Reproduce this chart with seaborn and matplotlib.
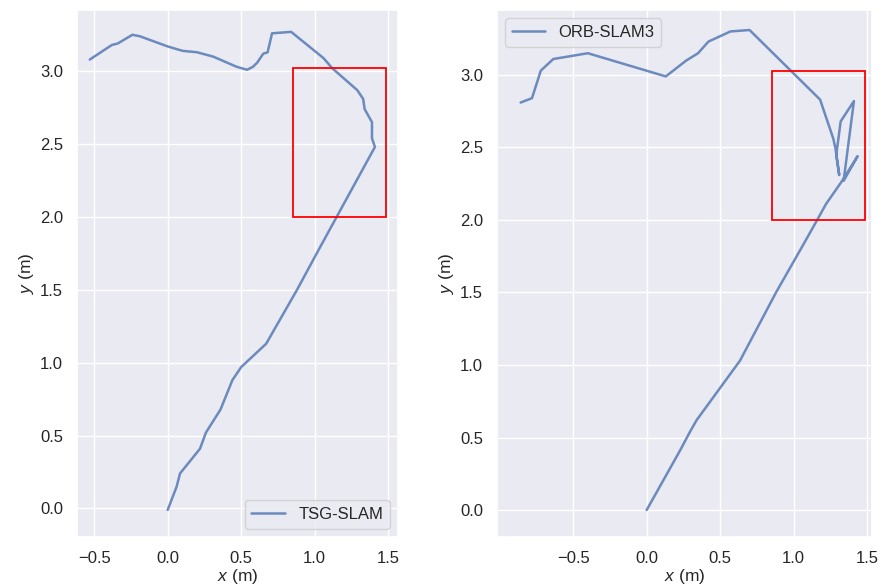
import matplotlib
matplotlib.use("Agg")
import matplotlib.pyplot as plt
import matplotlib.patches as mpatches
import seaborn as sns
import pandas as pd

# ---- data ----
tsg_x = [0.0, 0.061, 0.084, 0.22, 0.26, 0.36, 0.44, 0.50, 0.67, 0.88, 1.03, 1.41,
         1.39, 1.39, 1.34, 1.33, 1.29, 1.12, 1.06, 0.95, 0.84, 0.71, 0.68, 0.65,
         0.61, 0.58, 0.54, 0.47, 0.31, 0.20, 0.10, 0.00, -0.19, -0.24, -0.34, -0.38, -0.53]
tsg_y = [-0.01, 0.15, 0.24, 0.41, 0.52, 0.68, 0.88, 0.97, 1.13, 1.50, 1.78, 2.48,
         2.54, 2.65, 2.74, 2.81, 2.87, 3.02, 3.09, 3.18, 3.27, 3.26, 3.13, 3.12,
         3.06, 3.03, 3.01, 3.03, 3.10, 3.13, 3.14, 3.17, 3.24, 3.25, 3.19, 3.18, 3.08]

orb_x = [0.0, 0.227, 0.295, 0.34, 0.635, 0.88, 1.06, 1.16, 1.22, 1.33, 1.435,
         1.34, 1.41, 1.32, 1.29, 1.31, 1.285, 1.27, 1.19, 1.18, 0.70, 0.57, 0.42,
         0.35, 0.27, 0.13, -0.40, -0.635, -0.72, -0.78, -0.857]
orb_y = [0.0, 0.41, 0.54, 0.62, 1.03, 1.50, 1.82, 2.00, 2.11, 2.27, 2.44,
         2.27, 2.82, 2.68, 2.45, 2.31, 2.49, 2.56, 2.80, 2.83, 3.31, 3.30, 3.23,
         3.15, 3.10, 2.99, 3.15, 3.11, 3.03, 2.84, 2.81]

box_x0, box_x1 = 0.855, 1.485
box_y0, box_y1 = 2.0, 3.025

x_ticks = [-0.5, 0.0, 0.5, 1.0, 1.5]
y_ticks = [0.0, 0.5, 1.0, 1.5, 2.0, 2.5, 3.0]

# ---- style ----
sns.set_theme(style="darkgrid")
plt.rcParams["font.family"] = ["Liberation Sans", "DejaVu Sans"]
plt.rcParams["mathtext.fontset"] = "custom"
plt.rcParams["mathtext.rm"] = "Liberation Sans"
plt.rcParams["mathtext.it"] = "Liberation Sans:italic"

fig = plt.figure(figsize=(8.8, 5.86), dpi=100)
ax1 = fig.add_axes([77/880, 1-537/586, (398-77)/880, 527/586])
ax2 = fig.add_axes([497/880, 1-537/586, (872-497)/880, 527/586])

df1 = pd.DataFrame({"x": tsg_x, "y": tsg_y})
df2 = pd.DataFrame({"x": orb_x, "y": orb_y})

line_kw = dict(sort=False, estimator=None, color="#4c72b0", alpha=0.8, linewidth=1.8)
sns.lineplot(data=df1, x="x", y="y", label="TSG-SLAM", ax=ax1, **line_kw)
sns.lineplot(data=df2, x="x", y="y", label="ORB-SLAM3", ax=ax2, **line_kw)

limits = [((-0.617, 1.567), (-0.196, 3.42)), ((-1.018, 1.533), (-0.186, 3.448))]
for ax, (xl, yl) in zip([ax1, ax2], limits):
    ax.add_patch(mpatches.Rectangle((box_x0, box_y0), box_x1 - box_x0, box_y1 - box_y0,
                                    fill=False, edgecolor="red", linewidth=1.3, zorder=3))
    ax.set_xlim(*xl)
    ax.set_ylim(*yl)
    ax.set_xticks(x_ticks)
    ax.set_yticks(y_ticks)
    ax.tick_params(labelsize=12, colors="#262626", pad=4)
    ax.set_xlabel("$x$ (m)", fontsize=12.5, labelpad=1)
    ax.set_ylabel("$y$ (m)", fontsize=12.5, labelpad=3)

ax1.legend(loc="lower right", fontsize=12)
ax2.legend(loc="upper left", fontsize=12)

fig.savefig("out.png", dpi=100)
